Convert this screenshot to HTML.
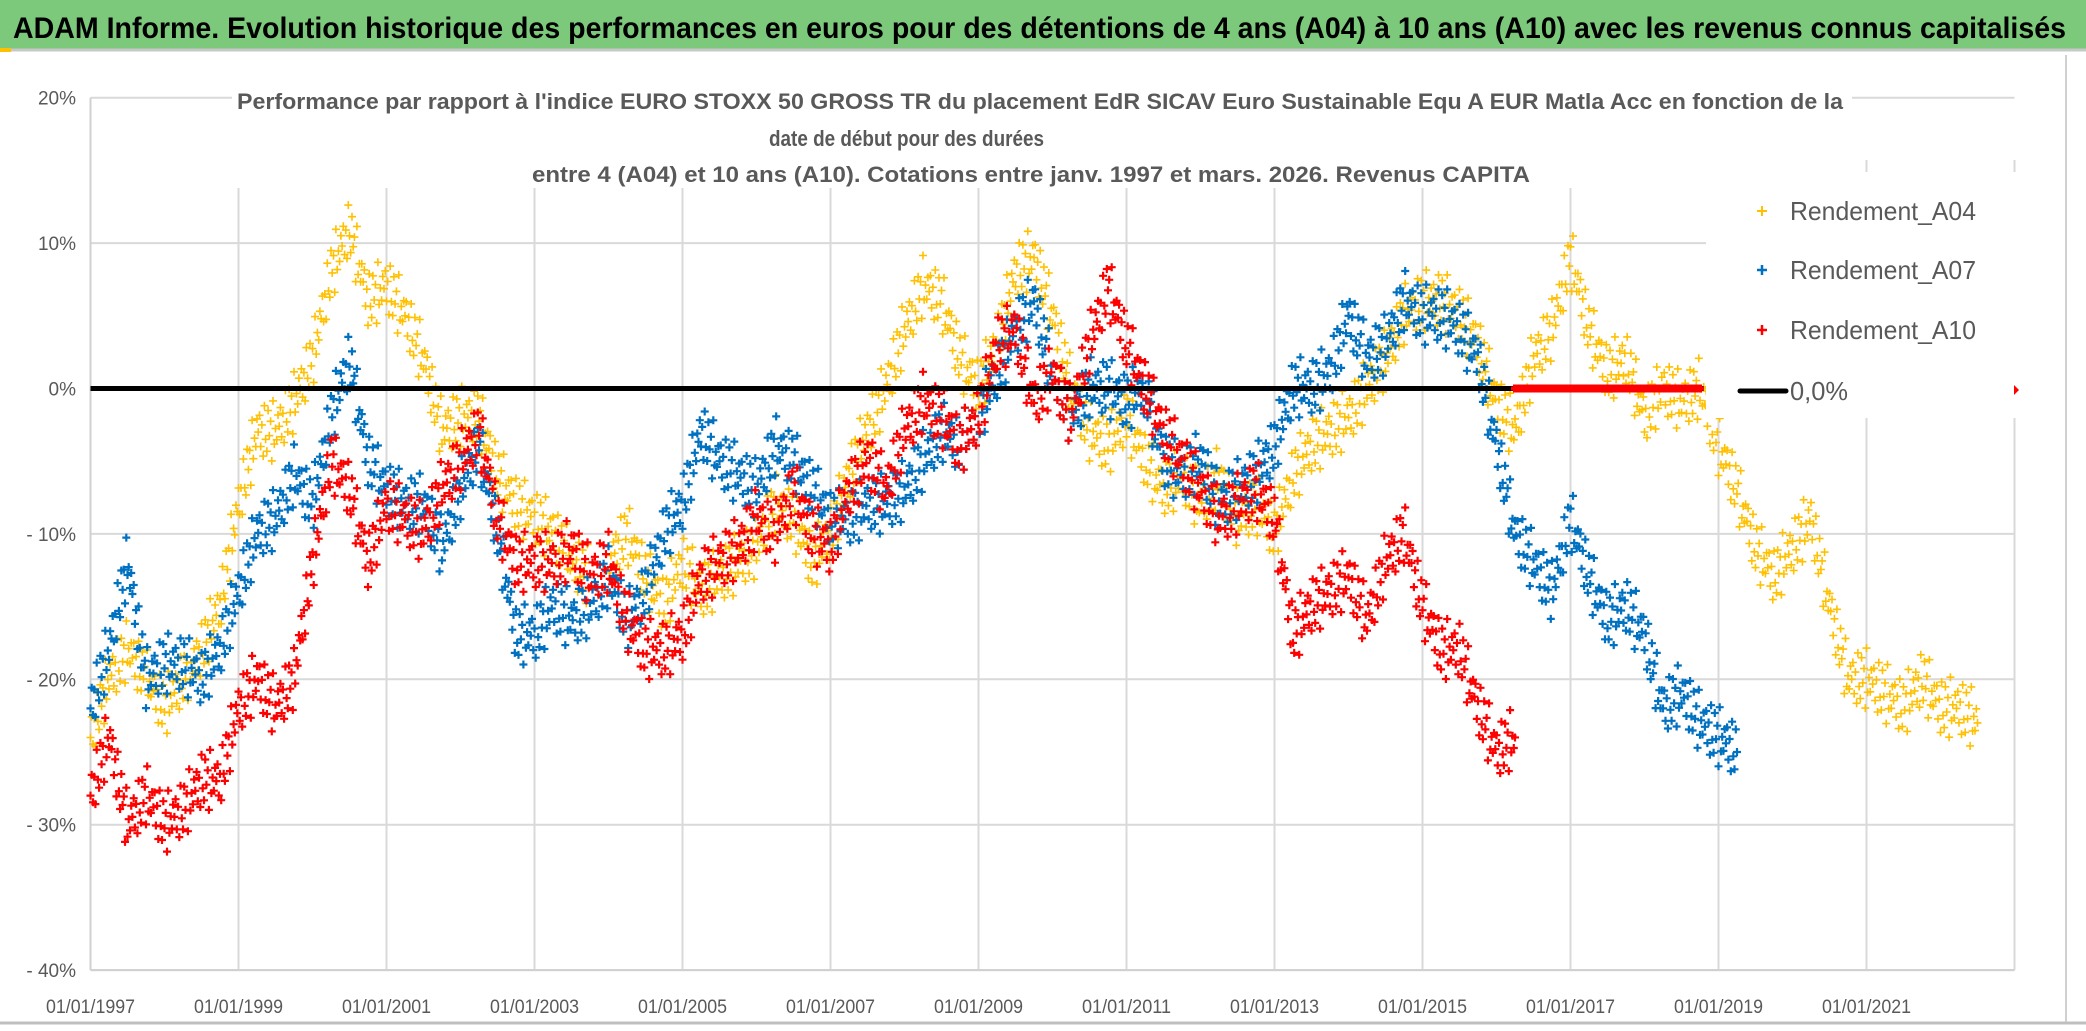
<!DOCTYPE html>
<html><head><meta charset="utf-8"><style>
html,body{margin:0;padding:0;background:#fff;}
svg{display:block;}
text{font-family:"Liberation Sans Narrow","Liberation Sans",sans-serif;}
</style></head><body>
<svg id="chart" width="2086" height="1031" viewBox="0 0 2086 1031" xmlns="http://www.w3.org/2000/svg">
  <rect x="0" y="0" width="2086" height="1031" fill="#fff"/>
  <rect x="0" y="0" width="2086" height="49" fill="#7cc97c"/>
  <line x1="0" y1="50" x2="2086" y2="50" stroke="#c8c8c8" stroke-width="3"/>
  <rect x="0" y="48" width="11" height="4" fill="#ffc000"/>
  <text x="13" y="38" font-size="30" font-weight="bold" fill="#000" textLength="2053" lengthAdjust="spacingAndGlyphs">ADAM Informe. Evolution historique des performances en euros pour des détentions de 4 ans (A04) à 10 ans (A10) avec les revenus connus capitalisés</text>
  <line x1="2066" y1="55" x2="2066" y2="1022" stroke="#d0d0d0" stroke-width="2"/>
  <line x1="0" y1="1023" x2="2086" y2="1023" stroke="#bfbfbf" stroke-width="3"/>
  <g id="grid"></g>
  <g id="yaxis"></g>
  <g id="xaxis"></g>
  <rect x="232" y="70" width="1620" height="118" fill="#fff"/>
  <text x="237" y="109" font-size="22" font-weight="bold" fill="#595959" textLength="1606" lengthAdjust="spacingAndGlyphs">Performance par rapport à l'indice EURO STOXX 50 GROSS TR  du placement EdR SICAV Euro Sustainable Equ A EUR Matla Acc en fonction de la</text>
  <text x="769" y="146" font-size="22" font-weight="bold" fill="#595959" textLength="275" lengthAdjust="spacingAndGlyphs">date de début pour des durées</text>
  <text x="532" y="182" font-size="22" font-weight="bold" fill="#595959" textLength="998" lengthAdjust="spacingAndGlyphs">entre 4 (A04) et 10 ans (A10). Cotations entre janv. 1997 et mars. 2026. Revenus CAPITA</text>
  <g id="plot"></g>
  <rect x="1706" y="172" width="340" height="246" fill="#fff"/>
  <g id="legend">
    <g>
      <path d="M1757 211h10M1762 206v10" stroke="#ffc000" stroke-width="2"/>
      <text x="1790" y="220" font-size="26" fill="#595959" textLength="186" lengthAdjust="spacingAndGlyphs">Rendement_A04</text>
    </g>
    <g>
      <path d="M1757 270h10M1762 265v10" stroke="#0070c0" stroke-width="2.5"/>
      <text x="1790" y="279" font-size="26" fill="#595959" textLength="186" lengthAdjust="spacingAndGlyphs">Rendement_A07</text>
    </g>
    <g>
      <path d="M1757 330h10M1762 325v10" stroke="#ff0000" stroke-width="2.5"/>
      <text x="1790" y="339" font-size="26" fill="#595959" textLength="186" lengthAdjust="spacingAndGlyphs">Rendement_A10</text>
    </g>
    <g>
      <line x1="1740" y1="391" x2="1786" y2="391" stroke="#000" stroke-width="5" stroke-linecap="round"/>
      <text x="1790" y="400" font-size="26" fill="#595959" textLength="58" lengthAdjust="spacingAndGlyphs">0,0%</text>
    </g>
    <path d="M2014 385l5 5l-5 5z" fill="#ff0000"/>
  </g>
</svg>
<script>
// ---- data ----
const yTicks = [20, 10, 0, -10, -20, -30, -40];
const yTickLabels = ["20%", "10%", "0%", "- 10%", "- 20%", "- 30%", "- 40%"];
const xTickYears = [1997, 1999, 2001, 2003, 2005, 2007, 2009, 2011, 2013, 2015, 2017, 2019, 2021];
const xTickLabels = ["01/01/1997","01/01/1999","01/01/2001","01/01/2003","01/01/2005","01/01/2007","01/01/2009","01/01/2011","01/01/2013","01/01/2015","01/01/2017","01/01/2019","01/01/2021"];
const seriesStart = 1997.0;
const seriesStep = 0.25;
const a04Values = [-24,-20,-18,-20,-22,-20,-18,-15,-8,-3,-3,-1,2,8,11,6,7,5,2,-3,-2,-2,-6,-8,-9,-10,-12,-13,-12,-10,-13,-15,-12,-14,-13,-12,-11,-8,-9,-12,-10,-6,-3,0,4,7,6,2,0,3,8,9,5,0,-3,-4,-2,-5,-7,-6,-8,-6,-9,-8,-10,-6,-4,-3,-2,0,2,5,6,6,5,3,-1,-3,2,4,9,4,1,2,-2,0,-1,0,-4,-7,-11,-13,-11,-9,-15,-20,-20,-21,-22,-20,-22,-22,-23];
const a07Values = [-22,-18,-12,-20,-19,-19,-20,-18,-14,-10,-9,-6,-8,-2,2,-5,-7,-8,-8,-11,-7,-4,-10,-17,-17,-15,-16,-15,-13,-16,-14,-10,-8,-3,-5,-6,-7,-4,-5,-7,-9,-9,-8,-8,-7,-5,-3,-4,-2,1,4,6,1,-2,0,0,-1,0,-5,-6,-5,-8,-7,-6,-4,0,0,1,5,2,3,6,5,5,4,2,-4,-10,-12,-14,-9,-13,-16,-15,-17,-22,-21,-23,-24,-25];
const a10Values = [-28,-24,-30,-28,-30,-29,-27,-27,-22,-20,-22,-20,-12,-5,-7,-12,-8,-9,-10,-7,-5,-3,-9,-12,-12,-12,-11,-13,-12,-16,-18,-18,-17,-13,-12,-11,-9,-10,-7,-10,-11,-7,-5,-7,-3,-1,-2,-4,-2,3,4,-1,1,-2,3,7,3,0,-3,-5,-7,-9,-8,-7,-9,-17,-15,-14,-13,-16,-12,-10,-15,-18,-18,-22,-25,-24];
const a10ZeroStart = 2016.25;
const a10ZeroValues = [0,0,0,0,0,0,0,0,0,0,0];
const zeroLineRange = [1997.0, 2018.8];

// ---- scales ----
const X0 = 90.5, PX_PER_YEAR = 74.0;
const Y0 = 388.5, PX_PER_PCT = 14.54;
function xs(year){ return X0 + (year - 1997) * PX_PER_YEAR; }
function ys(pct){ return Y0 - pct * PX_PER_PCT; }
const NS = "http://www.w3.org/2000/svg";
function mk(tag, attrs, parent){
  const e = document.createElementNS(NS, tag);
  for (const k in attrs) e.setAttribute(k, attrs[k]);
  parent.appendChild(e); return e;
}
const grid = document.getElementById('grid');
const yaxis = document.getElementById('yaxis');
const xaxis = document.getElementById('xaxis');
const plot = document.getElementById('plot');

yTicks.forEach((v, i) => {
  const ln = mk('line', {x1: X0, x2: xs(2023), y1: ys(v), y2: ys(v), stroke: '#d9d9d9', 'stroke-width': 2}, grid);
  
  
  const t = mk('text', {x: 76, y: ys(v) + 7, 'font-size': 19, fill: '#595959', 'text-anchor': 'end'}, yaxis);
  t.textContent = yTickLabels[i];
  
  
});
for (let yr = 1999; yr <= 2023; yr += 2) {
  const ln = mk('line', {x1: xs(yr), x2: xs(yr), y1: 160, y2: ys(-40), stroke: '#d9d9d9', 'stroke-width': 2}, grid);
  
  
}
const ax = mk('line', {x1: X0, x2: X0, y1: ys(20), y2: ys(-40), stroke: '#d0d0d0', 'stroke-width': 2}, grid);


const bx = mk('line', {x1: X0, x2: xs(2023), y1: ys(-40), y2: ys(-40), stroke: '#d0d0d0', 'stroke-width': 2}, grid);


xTickYears.forEach((yr, i) => {
  const t = mk('text', {x: xs(yr), y: 1013, 'font-size': 19, fill: '#595959', 'text-anchor': 'middle', textLength: 89, lengthAdjust: 'spacingAndGlyphs'}, xaxis);
  t.textContent = xTickLabels[i];
  
  
});

const spread = [0, -1.4, 1.2, -0.6, 2.0, -2.2, 0.6, 1.6, -1.8, 0.3, -0.9, 2.4, -2.6, 1.0, -0.3, 0.8, -1.1];
function drawSeries(values, start, color, name, sw, spreadScale, stepPx){
  const g = mk('g', {stroke: color, 'stroke-width': sw, fill: 'none'}, plot);
  
  
  let d = '';
  let k = 0;
  for (let i = 0; i < values.length - 1; i++) {
    const xa = xs(start + i * seriesStep), xb = xs(start + (i + 1) * seriesStep);
    const ya = ys(values[i]), yb = ys(values[i + 1]);
    const n = Math.max(1, Math.round((xb - xa) / stepPx));
    for (let j = 0; j < n; j++) {
      const f = j / n;
      const x = xa + (xb - xa) * f;
      const y = ya + (yb - ya) * f + spread[k % spread.length] * spreadScale;
      k++;
      d += `M${(x-4).toFixed(1)} ${y.toFixed(1)}h8M${x.toFixed(1)} ${(y-4).toFixed(1)}v8`;
    }
  }
  const last = values.length - 1;
  const xl = xs(start + last * seriesStep), yl = ys(values[last]);
  d += `M${xl-4} ${yl}h8M${xl} ${yl-4}v8`;
  const p = mk('path', {d: d}, g);
  
  
}
drawSeries(a04Values, seriesStart, '#ffc000', 'series-rendement-a04', 1.6, 12, 1.2);
drawSeries(a07Values, seriesStart, '#0070c0', 'series-rendement-a07', 2.2, 12, 1.2);
drawSeries(a10Values, seriesStart, '#ff0000', 'series-rendement-a10', 2.2, 12, 1.2);

const zl = mk('line', {x1: xs(zeroLineRange[0]), x2: xs(zeroLineRange[1]), y1: ys(0), y2: ys(0), stroke: '#000', 'stroke-width': 5}, plot);


drawSeries(a10ZeroValues, a10ZeroStart, '#ff0000', 'series-rendement-a10-zero', 4, 0, 2.2);
</script>
</body></html>
